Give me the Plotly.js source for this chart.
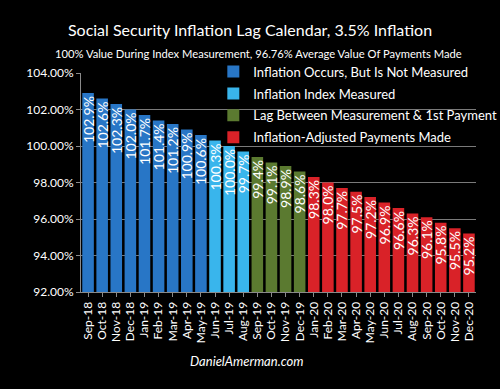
<!DOCTYPE html>
<html>
<head>
<meta charset="utf-8">
<script src="https://cdn.plot.ly/plotly-3.0.1.min.js"></script>
<style>
html,body{margin:0;padding:0;background:#000;}
#chart{width:500px;height:389px;}
</style>
</head>
<body>
<div id="chart"></div>
<script>
const notMeasuredMonths = ["Sep-18","Oct-18","Nov-18","Dec-18","Jan-19","Feb-19","Mar-19","Apr-19","May-19"];
const notMeasuredValues = [102.9,102.6,102.3,102.0,101.7,101.4,101.2,100.9,100.6];
const measuredMonths = ["Jun-19","Jul-19","Aug-19"];
const measuredValues = [100.3,100.0,99.7];
const lagMonths = ["Sep-19","Oct-19","Nov-19","Dec-19"];
const lagValues = [99.4,99.1,98.9,98.6];
const paidMonths = ["Jan-20","Feb-20","Mar-20","Apr-20","May-20","Jun-20","Jul-20","Aug-20","Sep-20","Oct-20","Nov-20","Dec-20"];
const paidValues = [98.3,98.0,97.7,97.5,97.2,96.9,96.6,96.3,96.1,95.8,95.5,95.2];
const seriesNames = ["Inflation Occurs, But Is Not Measured","Inflation Index Measured","Lag Between Measurement & 1st Payment","Inflation-Adjusted Payments Made"];
const yTickValues = [92,94,96,98,100,102,104];
const yTickLabels = ["92.00%","94.00%","96.00%","98.00%","100.00%","102.00%","104.00%"];

const colors = ["#2876c6","#39b5ec","#5b7a30","#d92228"];
const FONT = "Lato, 'Open Sans', sans-serif";

function barTrace(x, y, name, color, grp){
  return {
    type:'bar', x:x, y:y, name:name, legendgroup:grp,
    marker:{color:color, line:{width:0}},
    text:y.map(v=>v.toFixed(1)+'%'),
    textposition:'inside', insidetextanchor:'end', textangle:-90,
    constraintext:'none', cliponaxis:false,
    textfont:{color:'#ffffff', size:14, family:FONT},
    hoverinfo:'skip'
  };
}

const data = [
  barTrace(notMeasuredMonths, notMeasuredValues, seriesNames[0], colors[0], 'g1'),
  barTrace(measuredMonths, measuredValues, seriesNames[1], colors[1], 'g2'),
  barTrace(lagMonths, lagValues, seriesNames[2], colors[2], 'g3'),
  barTrace(paidMonths, paidValues, seriesNames[3], colors[3], 'g4')
];

const layout = {
  width:500, height:389,
  paper_bgcolor:'#000', plot_bgcolor:'#000',
  margin:{l:81, r:24, t:73, b:97, pad:0, autoexpand:false},
  barmode:'overlay', bargap:0.18,
  font:{family:FONT, color:'#fff', size:12},
  title:{text:'Social Security Inflation Lag Calendar, 3.5% Inflation',
    font:{size:16, color:'#fff', family:FONT}, x:0.5, xanchor:'center',
    y:1-30/389, yref:'container', yanchor:'middle'},
  xaxis:{type:'category', tickangle:-90, tickfont:{size:12, color:'#fff'},
    showgrid:false, showline:true, linecolor:'#8a8a8a', linewidth:1,
    ticks:'outside', ticklen:4, tickcolor:'#8a8a8a', automargin:false,
    categoryorder:'array',
    categoryarray:[].concat(notMeasuredMonths, measuredMonths, lagMonths, paidMonths)},
  yaxis:{range:[92,104], tickmode:'array', tickvals:yTickValues, ticktext:yTickLabels,
    tickfont:{size:12, color:'#fff'}, automargin:false,
    showgrid:true, gridcolor:'#7a7a7a', gridwidth:1,
    showline:true, linecolor:'#8a8a8a', linewidth:1,
    ticks:'outside', ticklen:4, tickcolor:'#8a8a8a', zeroline:false},
  legend:{x:0.335, y:1.075, xanchor:'left', yanchor:'top',
    bgcolor:'rgba(0,0,0,0)', font:{size:13, color:'#fff', family:FONT},
    tracegroupgap:2, itemwidth:30},
  showlegend:true,
  annotations:[
    {text:'100% Value During Index Measurement, 96.76% Average Value Of Payments Made',
     xref:'paper', yref:'paper', x:0.45, y:(292-53)/219, yanchor:'middle', showarrow:false,
     font:{size:11.2, color:'#fff', family:FONT}},
    {text:'<i>DanielAmerman.com</i>', xref:'paper', yref:'paper', x:0.42, y:(292-361)/219,
     yanchor:'middle', showarrow:false,
     font:{size:13, color:'#fff', family:FONT}}
  ]
};

Plotly.newPlot('chart', data, layout, {displayModeBar:false, staticPlot:true});
</script>
</body>
</html>
